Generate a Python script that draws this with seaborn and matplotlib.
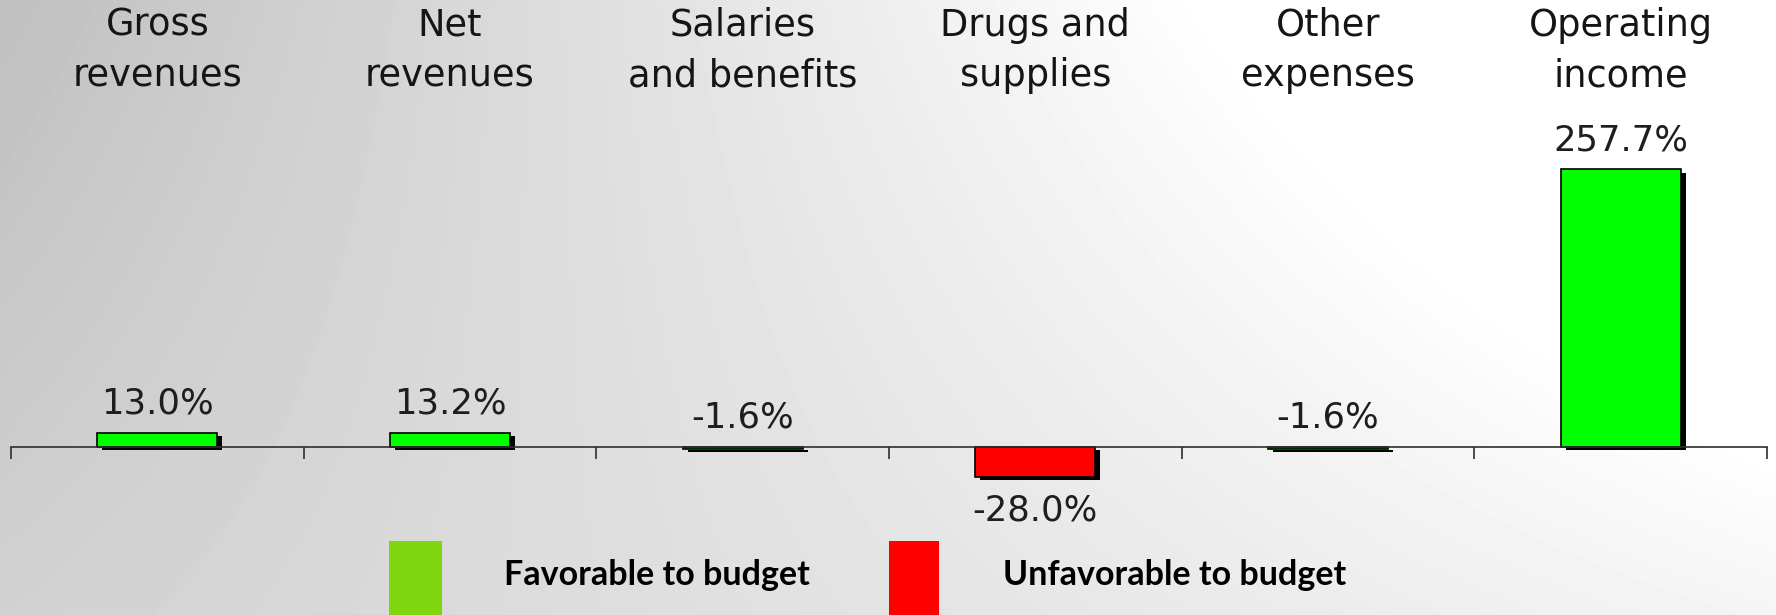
import numpy as np
import pandas as pd
import matplotlib
matplotlib.use("Agg")
import matplotlib.pyplot as plt
import matplotlib.patheffects as pe
from matplotlib.patches import Rectangle
from matplotlib.transforms import blended_transform_factory
import seaborn as sns

# chart data
categories = ["Gross\nrevenues", "Net\nrevenues", "Salaries\nand benefits",
              "Drugs and\nsupplies", "Other\nexpenses", "Operating\nincome"]
variance_pct = [13.0, 13.2, -1.6, -28.0, -1.6, 257.7]
status = ["Favorable", "Favorable", "Favorable", "Unfavorable", "Favorable", "Favorable"]
legend_labels = ["Favorable to budget", "Unfavorable to budget"]

df = pd.DataFrame({"category": categories, "variance": variance_pct, "status": status})

sns.set_theme(style="white")
plt.rcParams["font.family"] = ["DejaVu Sans"]

W, H = 1776, 615
fig = plt.figure(figsize=(W / 100, H / 100), dpi=100)

# grey-to-white slide background
bg = fig.add_axes([0, 0, 1, 1], zorder=-5)
gx = np.linspace(0, 1, 400)[None, :]
gy = np.linspace(0, 1, 150)[:, None]
top = 0.75 + (1.12 - 0.75) * gx
bot = 0.82 + (0.96 - 0.82) * gx
shade = np.clip(top * (1 - gy) + bot * gy, 0, 1)
bg.imshow(shade, cmap="gray", vmin=0, vmax=1, aspect="auto", interpolation="bilinear")
bg.set_axis_off()

ax = fig.add_axes([11 / W, 0, 1756 / W, 1])
ax.patch.set_alpha(0)

sns.barplot(data=df, x="category", y="variance", hue="status",
            palette={"Favorable": "#00FF00", "Unfavorable": "#FF0000"}, saturation=1,
            dodge=False, width=0.41, edgecolor="black", linewidth=1.2,
            legend=False, ax=ax)

# drop shadow like the old office charts
for bar in ax.patches:
    bar.set_path_effects([pe.SimplePatchShadow(offset=(3.6, -2.4), shadow_rgbFace="black", alpha=1),
                          pe.Normal()])

px_per_pct = 1.077
ax.set_xlim(-0.5, len(categories) - 0.5)
ax.set_ylim(-(H - 447) / px_per_pct, 447 / px_per_pct)

for s in ["left", "right", "top"]:
    ax.spines[s].set_visible(False)
ax.spines["bottom"].set_position(("data", 0))
ax.spines["bottom"].set_color("#2e2e2e")
ax.spines["bottom"].set_linewidth(1.2)
ax.set_xticks(np.arange(len(categories) + 1) - 0.5, labels=[""] * (len(categories) + 1))
ax.tick_params(axis="x", direction="out", length=8.6, width=1.2, color="#2e2e2e", bottom=True)
ax.set_yticks([])
ax.set_xlabel("")
ax.set_ylabel("")

# value labels
for i, v in enumerate(variance_pct):
    if v < -5:
        ax.annotate(f"{v:.1f}%", (i, v), xytext=(0, -12), textcoords="offset points",
                    ha="center", va="top", fontsize=25.5, color="#1e1e1e")
    else:
        ax.annotate(f"{v:.1f}%", (i, max(v, 0)), xytext=(0, 13.7), textcoords="offset points",
                    ha="center", va="baseline", fontsize=25.5, color="#1e1e1e")

# category headers along the top
trans = blended_transform_factory(ax.transData, ax.transAxes)
for i, c in enumerate(categories):
    ax.text(i, 1 - 7 / H, c, transform=trans, ha="center", va="top",
            fontsize=26.5, linespacing=1.45, color="#151515")

# legend boxes at the bottom
fig.patches.append(Rectangle((389 / W, 0), 53 / W, 74 / H, transform=fig.transFigure,
                             facecolor="#7ED60E", edgecolor="none"))
fig.patches.append(Rectangle((889 / W, 0), 50 / W, 74 / H, transform=fig.transFigure,
                             facecolor="#FF0000", edgecolor="none"))
fig.text(504 / W, 30 / H, legend_labels[0], family=["Lato", "DejaVu Sans"], fontweight="bold",
         fontsize=24.5, color="black", va="baseline")
fig.text(1003 / W, 30 / H, legend_labels[1], family=["Lato", "DejaVu Sans"], fontweight="bold",
         fontsize=24.5, color="black", va="baseline")

fig.savefig("out.png", dpi=100)
plt.close(fig)
